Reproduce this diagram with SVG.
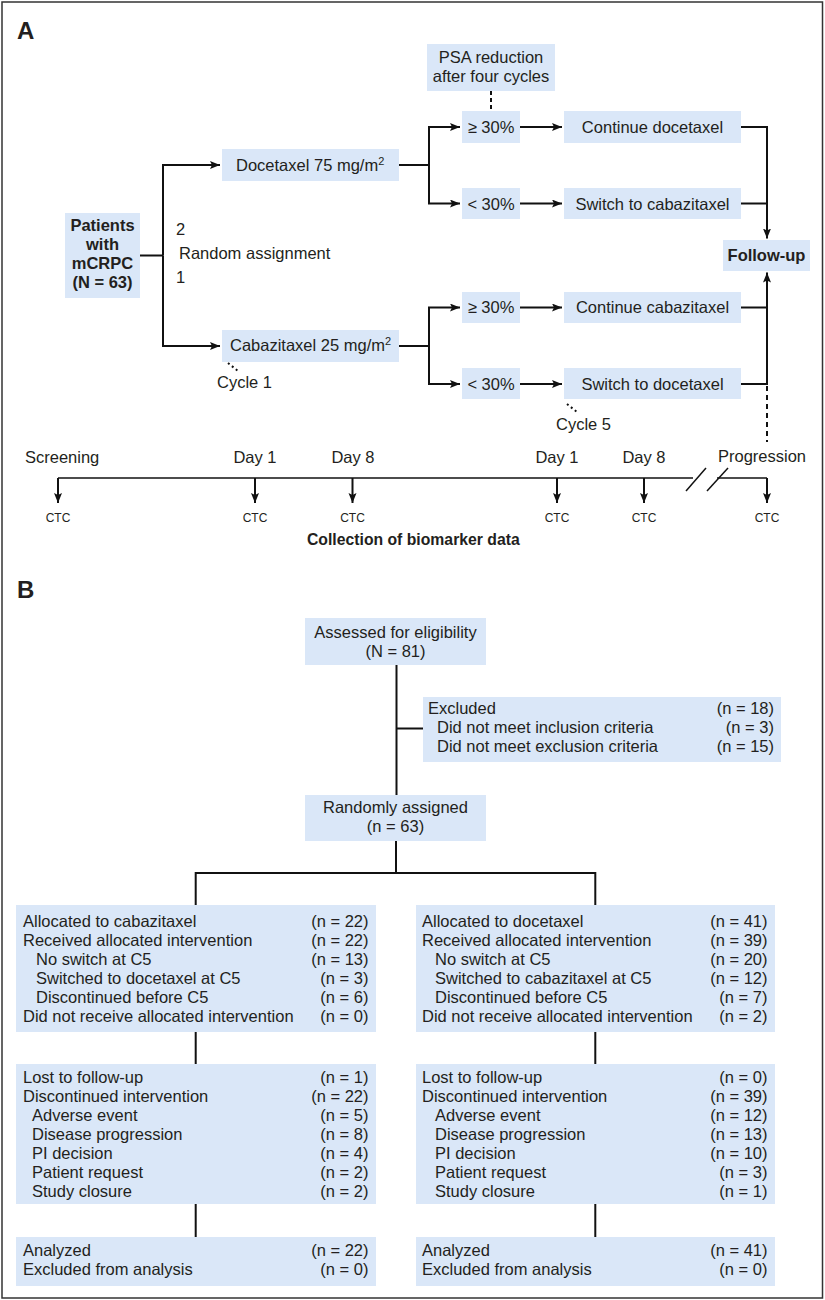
<svg xmlns="http://www.w3.org/2000/svg" width="825" height="1300" viewBox="0 0 825 1300">
<style>
.box{fill:#dae7f8;stroke:none}
text{font-family:"Liberation Sans",Arial,sans-serif;font-size:16.5px;fill:#231f20}
.b{font-weight:bold}
.c{text-anchor:middle}
.e{text-anchor:end}
.sm{font-size:12px}
.ln{fill:none;stroke:#111;stroke-width:2}
.tl{fill:none;stroke:#111;stroke-width:1.5}
.dash{fill:none;stroke:#111;stroke-width:2;stroke-dasharray:5,4}
.dot{fill:none;stroke:#111;stroke-width:2;stroke-dasharray:2,3}
</style>
<defs>
<marker id="ah" markerUnits="userSpaceOnUse" markerWidth="11" markerHeight="9" refX="10" refY="4" orient="auto">
<path d="M0,0 L10,4 L0,8 L2,4 z" fill="#111"/>
</marker>
</defs>
<rect x="2" y="2" width="820.5" height="1296" fill="#fff" stroke="#333" stroke-width="1.5"/>
<text x="17" y="39" class="b" style="font-size:24px">A</text>
<text x="17" y="598" class="b" style="font-size:24px">B</text>

<g id="connectors">
<path class="ln" d="M140,255.5 H163"/>
<path class="ln" d="M163,255.5 V165 H220" marker-end="url(#ah)"/>
<path class="ln" d="M163,255.5 V346 H220" marker-end="url(#ah)"/>
<path class="ln" d="M399,165 H429"/>
<path class="ln" d="M429,165 V127 H460" marker-end="url(#ah)"/>
<path class="ln" d="M429,165 V203.5 H460" marker-end="url(#ah)"/>
<path class="ln" d="M520,127 H562" marker-end="url(#ah)"/>
<path class="ln" d="M520,203.5 H562" marker-end="url(#ah)"/>
<path class="ln" d="M741,127 H767 V238.5" marker-end="url(#ah)"/>
<path class="ln" d="M741,203.5 H767"/>
<path class="ln" d="M399,346 H429"/>
<path class="ln" d="M429,346 V307.5 H460" marker-end="url(#ah)"/>
<path class="ln" d="M429,346 V384 H460" marker-end="url(#ah)"/>
<path class="ln" d="M520,307.5 H562" marker-end="url(#ah)"/>
<path class="ln" d="M520,384 H562" marker-end="url(#ah)"/>
<path class="ln" d="M741,307.5 H767"/>
<path class="ln" d="M741,384 H767 V272.5" marker-end="url(#ah)"/>
<path class="dash" d="M767,386 V442"/>
<path class="dash" d="M491,91 V111" style="stroke-dasharray:4,3"/>
<path class="dot" d="M228,363 L238,371"/>
<path class="dot" d="M567,404 L577,412"/>
<!-- timeline -->
<path class="tl" d="M58,478 H693"/>
<path class="tl" d="M717,478 H767"/>
<path class="tl" d="M686,491 L706,468"/>
<path class="tl" d="M707,491 L728,468"/>
<path class="ln" d="M58,478 V503" marker-end="url(#ah)"/>
<path class="ln" d="M255,478 V503" marker-end="url(#ah)"/>
<path class="ln" d="M352.5,478 V503" marker-end="url(#ah)"/>
<path class="ln" d="M557,478 V503" marker-end="url(#ah)"/>
<path class="ln" d="M644,478 V503" marker-end="url(#ah)"/>
<path class="ln" d="M767,478 V503" marker-end="url(#ah)"/>
<!-- panel B -->
<path class="ln" d="M396.5,665 V795"/>
<path class="ln" d="M396.5,728.5 H423"/>
<path class="ln" d="M396,841 V873 M195.7,905 V873 H595.3 V905"/>
<path class="ln" d="M195.7,1032 V1064 M595.3,1032 V1064"/>
<path class="ln" d="M195.7,1204 V1237 M595.3,1204 V1237"/>
</g>

<g id="psa"><rect class="box" x="427" y="44" width="128" height="47"/>
<text x="491" y="63" class="c">PSA reduction</text><text x="491" y="82" class="c">after four cycles</text></g>
<g id="ge30-top"><rect class="box" x="462" y="111" width="58" height="32"/><text x="491" y="133" class="c">≥ 30%</text></g>
<g id="continue-doc"><rect class="box" x="564" y="111" width="177" height="32"/><text x="652.5" y="133" class="c">Continue docetaxel</text></g>
<g id="docetaxel"><rect class="box" x="222" y="149" width="177" height="32"/><text x="236" y="170.5">Docetaxel 75 mg/m<tspan dy="-6" style="font-size:11px">2</tspan></text></g>
<g id="lt30-top"><rect class="box" x="462" y="188" width="58" height="31"/><text x="491" y="209.5" class="c">&lt; 30%</text></g>
<g id="switch-cab"><rect class="box" x="564" y="188" width="177" height="31"/><text x="652.5" y="209.5" class="c">Switch to cabazitaxel</text></g>
<g id="patients"><rect class="box" x="65" y="213" width="75" height="85"/>
<text x="102.5" y="231" class="c b">Patients</text><text x="102.5" y="250" class="c b">with</text><text x="102.5" y="269" class="c b">mCRPC</text><text x="102.5" y="288" class="c b">(N = 63)</text></g>
<g id="random"><text x="176" y="235">2</text><text x="179" y="259">Random assignment</text><text x="176" y="283">1</text></g>
<g id="followup"><rect class="box" x="723" y="240" width="87" height="31"/><text x="766.5" y="261" class="c b">Follow-up</text></g>
<g id="ge30-bot"><rect class="box" x="462" y="292" width="58" height="31"/><text x="491" y="313" class="c">≥ 30%</text></g>
<g id="continue-cab"><rect class="box" x="564" y="292" width="177" height="31"/><text x="652.5" y="313" class="c">Continue cabazitaxel</text></g>
<g id="cabazitaxel"><rect class="box" x="222" y="330" width="177" height="32"/><text x="230" y="351">Cabazitaxel 25 mg/m<tspan dy="-6" style="font-size:11px">2</tspan></text></g>
<g id="lt30-bot"><rect class="box" x="462" y="368" width="58" height="31"/><text x="491" y="390" class="c">&lt; 30%</text></g>
<g id="switch-doc"><rect class="box" x="564" y="368" width="177" height="31"/><text x="652.5" y="390" class="c">Switch to docetaxel</text></g>
<g id="cycles"><text x="217" y="388">Cycle 1</text><text x="556" y="430">Cycle 5</text></g>

<g id="timeline-labels">
<text x="25" y="463">Screening</text>
<text x="255" y="463" class="c">Day 1</text>
<text x="353" y="463" class="c">Day 8</text>
<text x="557" y="463" class="c">Day 1</text>
<text x="644" y="463" class="c">Day 8</text>
<text x="718" y="462">Progression</text>
<text x="58" y="522" class="c sm">CTC</text>
<text x="255" y="522" class="c sm">CTC</text>
<text x="352.5" y="522" class="c sm">CTC</text>
<text x="557" y="522" class="c sm">CTC</text>
<text x="644" y="522" class="c sm">CTC</text>
<text x="767" y="522" class="c sm">CTC</text>
<text x="307" y="545" class="b" style="font-size:15.75px">Collection of biomarker data</text>
</g>

<g id="assessed"><rect class="box" x="305" y="618" width="181" height="47"/>
<text x="395.5" y="638" class="c">Assessed for eligibility</text><text x="395.5" y="657" class="c">(N = 81)</text></g>
<g id="excluded"><rect class="box" x="423" y="697" width="358" height="65"/>
<text x="428" y="713.5">Excluded</text><text x="774" y="713.5" class="e">(n = 18)</text>
<text x="437" y="732.5">Did not meet inclusion criteria</text><text x="774" y="732.5" class="e">(n = 3)</text>
<text x="437" y="751.5">Did not meet exclusion criteria</text><text x="774" y="751.5" class="e">(n = 15)</text></g>
<g id="randomized"><rect class="box" x="305" y="795" width="181" height="46"/>
<text x="395.5" y="813" class="c">Randomly assigned</text><text x="395.5" y="831.5" class="c">(n = 63)</text></g>

<g id="alloc-cab"><rect class="box" x="16" y="905" width="360" height="127"/>
<text x="23" y="926.5">Allocated to cabazitaxel</text><text x="368.5" y="926.5" class="e">(n = 22)</text>
<text x="23" y="945.5">Received allocated intervention</text><text x="368.5" y="945.5" class="e">(n = 22)</text>
<text x="36" y="964.5">No switch at C5</text><text x="368.5" y="964.5" class="e">(n = 13)</text>
<text x="36" y="983.5">Switched to docetaxel at C5</text><text x="368.5" y="983.5" class="e">(n = 3)</text>
<text x="36" y="1002.5">Discontinued before C5</text><text x="368.5" y="1002.5" class="e">(n = 6)</text>
<text x="23" y="1021.5">Did not receive allocated intervention</text><text x="368.5" y="1021.5" class="e">(n = 0)</text></g>
<g id="alloc-doc"><rect class="box" x="416" y="905" width="359" height="127"/>
<text x="422" y="926.5">Allocated to docetaxel</text><text x="767.5" y="926.5" class="e">(n = 41)</text>
<text x="422" y="945.5">Received allocated intervention</text><text x="767.5" y="945.5" class="e">(n = 39)</text>
<text x="435" y="964.5">No switch at C5</text><text x="767.5" y="964.5" class="e">(n = 20)</text>
<text x="435" y="983.5">Switched to cabazitaxel at C5</text><text x="767.5" y="983.5" class="e">(n = 12)</text>
<text x="435" y="1002.5">Discontinued before C5</text><text x="767.5" y="1002.5" class="e">(n = 7)</text>
<text x="422" y="1021.5">Did not receive allocated intervention</text><text x="767.5" y="1021.5" class="e">(n = 2)</text></g>

<g id="follow-cab"><rect class="box" x="16" y="1064" width="360" height="140"/>
<text x="23" y="1082.5">Lost to follow-up</text><text x="368.5" y="1082.5" class="e">(n = 1)</text>
<text x="23" y="1101.5">Discontinued intervention</text><text x="368.5" y="1101.5" class="e">(n = 22)</text>
<text x="32" y="1120.5">Adverse event</text><text x="368.5" y="1120.5" class="e">(n = 5)</text>
<text x="32" y="1139.5">Disease progression</text><text x="368.5" y="1139.5" class="e">(n = 8)</text>
<text x="32" y="1158.5">PI decision</text><text x="368.5" y="1158.5" class="e">(n = 4)</text>
<text x="32" y="1177.5">Patient request</text><text x="368.5" y="1177.5" class="e">(n = 2)</text>
<text x="32" y="1196.5">Study closure</text><text x="368.5" y="1196.5" class="e">(n = 2)</text></g>
<g id="follow-doc"><rect class="box" x="416" y="1064" width="359" height="140"/>
<text x="422" y="1082.5">Lost to follow-up</text><text x="767.5" y="1082.5" class="e">(n = 0)</text>
<text x="422" y="1101.5">Discontinued intervention</text><text x="767.5" y="1101.5" class="e">(n = 39)</text>
<text x="435" y="1120.5">Adverse event</text><text x="767.5" y="1120.5" class="e">(n = 12)</text>
<text x="435" y="1139.5">Disease progression</text><text x="767.5" y="1139.5" class="e">(n = 13)</text>
<text x="435" y="1158.5">PI decision</text><text x="767.5" y="1158.5" class="e">(n = 10)</text>
<text x="435" y="1177.5">Patient request</text><text x="767.5" y="1177.5" class="e">(n = 3)</text>
<text x="435" y="1196.5">Study closure</text><text x="767.5" y="1196.5" class="e">(n = 1)</text></g>

<g id="analyzed-cab"><rect class="box" x="16" y="1237" width="360" height="49"/>
<text x="23" y="1256">Analyzed</text><text x="368.5" y="1256" class="e">(n = 22)</text>
<text x="23" y="1275">Excluded from analysis</text><text x="368.5" y="1275" class="e">(n = 0)</text></g>
<g id="analyzed-doc"><rect class="box" x="416" y="1237" width="359" height="49"/>
<text x="422" y="1256">Analyzed</text><text x="767.5" y="1256" class="e">(n = 41)</text>
<text x="422" y="1275">Excluded from analysis</text><text x="767.5" y="1275" class="e">(n = 0)</text></g>
</svg>
